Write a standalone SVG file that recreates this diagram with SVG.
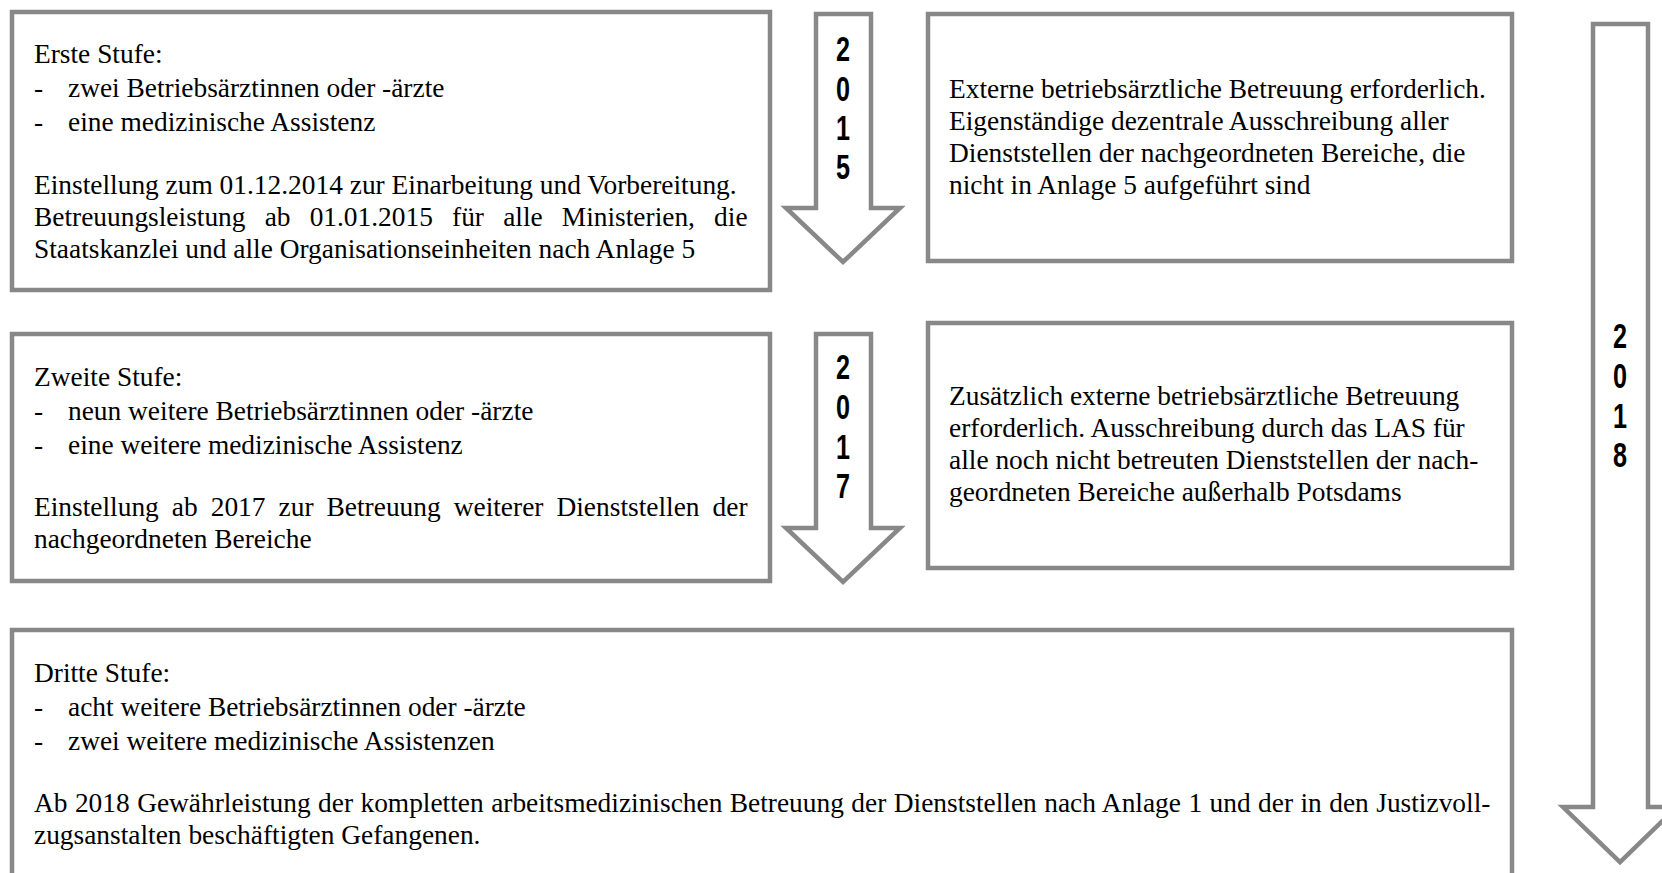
<svg xmlns="http://www.w3.org/2000/svg" width="1662" height="873" viewBox="0 0 1662 873">
<style>
.box{fill:#fff;stroke:#888;stroke-width:4.5}
.arr{fill:#fff;stroke:#888;stroke-width:4.5;stroke-linejoin:miter}
.t{font-family:"Liberation Serif","Times New Roman",serif;font-size:27.4px;fill:#000}
.y{font-family:"Liberation Sans",Arial,sans-serif;font-size:36px;font-weight:bold;fill:#000;text-anchor:middle}
</style>
<rect width="1662" height="873" fill="#fff"/>
<g id="connectors">
<g id="arrow2015">
<polygon class="arr" points="816,14 871,14 871,208 900,208 843,262 786,208 816,208"/>
<g transform="translate(843,0) scale(0.7,1)">
<text class="y" x="0" y="61">2</text>
<text class="y" x="0" y="101">0</text>
<text class="y" x="0" y="140">1</text>
<text class="y" x="0" y="179">5</text>
</g>
</g>
<g id="arrow2017">
<polygon class="arr" points="816,334 871,334 871,528 900,528 843,582 786,528 816,528"/>
<g transform="translate(843,0) scale(0.7,1)">
<text class="y" x="0" y="379">2</text>
<text class="y" x="0" y="419">0</text>
<text class="y" x="0" y="459">1</text>
<text class="y" x="0" y="498">7</text>
</g>
</g>
<g id="arrow2018">
<polygon class="arr" points="1593,24 1648,24 1648,807 1677,807 1620,862 1563,807 1593,807"/>
<g transform="translate(1620,0) scale(0.7,1)">
<text class="y" x="0" y="348">2</text>
<text class="y" x="0" y="388">0</text>
<text class="y" x="0" y="428">1</text>
<text class="y" x="0" y="467">8</text>
</g>
</g>
</g>
<g id="stufe1">
<rect class="box" x="12" y="12" width="758" height="278"/>
<text class="t" x="34" y="63">Erste Stufe:</text>
<text class="t" x="34" y="97">-</text><text class="t" x="68" y="97">zwei Betriebsärztinnen oder -ärzte</text>
<text class="t" x="34" y="131">-</text><text class="t" x="68" y="131">eine medizinische Assistenz</text>
<text class="t" x="34" y="194">Einstellung zum 01.12.2014 zur Einarbeitung und Vorbereitung.</text>
<text class="t" x="34" y="226" word-spacing="12.3">Betreuungsleistung ab 01.01.2015 für alle Ministerien, die</text>
<text class="t" x="34" y="258">Staatskanzlei und alle Organisationseinheiten nach Anlage 5</text>
</g>
<g id="extern1">
<rect class="box" x="928" y="14" width="584" height="247"/>
<text class="t" x="949" y="98">Externe betriebsärztliche Betreuung erforderlich.</text>
<text class="t" x="949" y="130">Eigenständige dezentrale Ausschreibung aller</text>
<text class="t" x="949" y="162">Dienststellen der nachgeordneten Bereiche, die</text>
<text class="t" x="949" y="194">nicht in Anlage 5 aufgeführt sind</text>
</g>
<g id="stufe2">
<rect class="box" x="12" y="334" width="758" height="247"/>
<text class="t" x="34" y="386">Zweite Stufe:</text>
<text class="t" x="34" y="420">-</text><text class="t" x="68" y="420">neun weitere Betriebsärztinnen oder -ärzte</text>
<text class="t" x="34" y="454">-</text><text class="t" x="68" y="454">eine weitere medizinische Assistenz</text>
<text class="t" x="34" y="516" word-spacing="6.2">Einstellung ab 2017 zur Betreuung weiterer Dienststellen der</text>
<text class="t" x="34" y="548">nachgeordneten Bereiche</text>
</g>
<g id="extern2">
<rect class="box" x="928" y="323" width="584" height="245"/>
<text class="t" x="949" y="405">Zusätzlich externe betriebsärztliche Betreuung</text>
<text class="t" x="949" y="437">erforderlich. Ausschreibung durch das LAS für</text>
<text class="t" x="949" y="469">alle noch nicht betreuten Dienststellen der nach-</text>
<text class="t" x="949" y="501">geordneten Bereiche außerhalb Potsdams</text>
</g>
<g id="stufe3">
<rect class="box" x="12" y="630" width="1500" height="300"/>
<text class="t" x="34" y="682">Dritte Stufe:</text>
<text class="t" x="34" y="716">-</text><text class="t" x="68" y="716">acht weitere Betriebsärztinnen oder -ärzte</text>
<text class="t" x="34" y="750">-</text><text class="t" x="68" y="750">zwei weitere medizinische Assistenzen</text>
<text class="t" x="34" y="812" word-spacing="0.6">Ab 2018 Gewährleistung der kompletten arbeitsmedizinischen Betreuung der Dienststellen nach Anlage 1 und der in den Justizvoll-</text>
<text class="t" x="34" y="844">zugsanstalten beschäftigten Gefangenen.</text>
</g>
</svg>
